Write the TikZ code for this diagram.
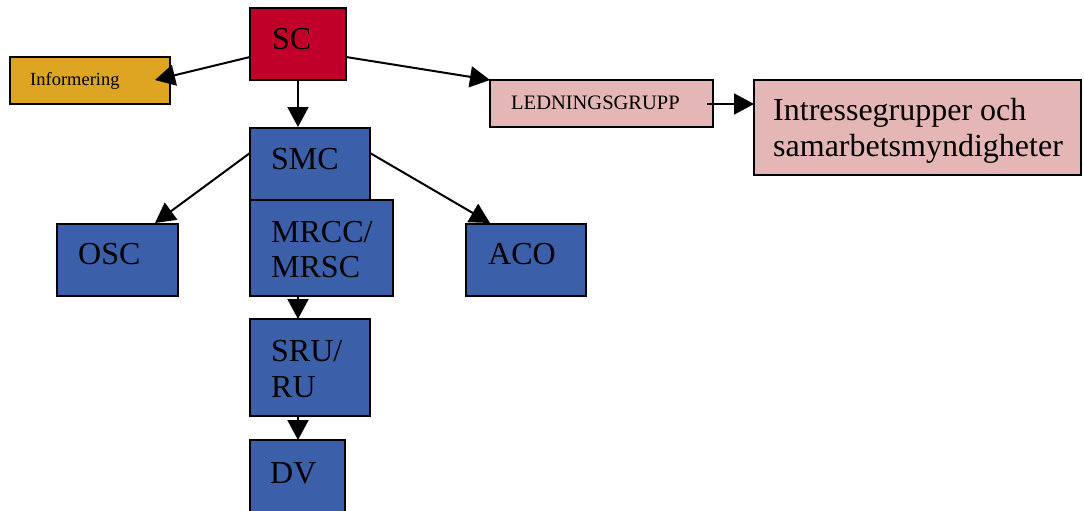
\documentclass[tikz,border=0pt]{standalone}
\usepackage{fontspec}
\setmainfont{Liberation Serif}
\usetikzlibrary{arrows.meta,calc}
\definecolor{scred}{HTML}{C00028}
\definecolor{goldbox}{HTML}{DDA521}
\definecolor{pinkbox}{HTML}{E4B6B6}
\definecolor{bluebox}{HTML}{3B5FA8}
\begin{document}
\begin{tikzpicture}[x=1pt,y=-1pt,
  box/.style={draw=black, line width=2pt, inner sep=0pt, outer sep=0pt, anchor=north west},
  lbl/.style={anchor=base west, inner sep=0pt, font=\fontsize{32}{35}\selectfont, align=left},
  small/.style={anchor=base west, inner sep=0pt},
  arr/.style={line width=2pt, -{Triangle[length=20pt,width=21pt]}}]
\useasboundingbox[fill=white] (0,0) rectangle (1084,511);
% boxes
\node[box, fill=scred, minimum width=96pt, minimum height=72pt] (sc) at (250,8) {};
\node[box, fill=goldbox, minimum width=160pt, minimum height=47pt] (inf) at (10,57) {};
\node[box, fill=pinkbox, minimum width=223pt, minimum height=47pt] (led) at (490,80) {};
\node[box, fill=pinkbox, minimum width=327pt, minimum height=95pt] (int) at (754,80) {};
\node[box, fill=bluebox, minimum width=120pt, minimum height=72pt] (smc) at (250,128) {};
\node[box, fill=bluebox, minimum width=143pt, minimum height=96pt] (mrcc) at (250,200) {};
\node[box, fill=bluebox, minimum width=121pt, minimum height=72pt] (osc) at (57,224) {};
\node[box, fill=bluebox, minimum width=120pt, minimum height=72pt] (aco) at (466,224) {};
\node[box, fill=bluebox, minimum width=120pt, minimum height=97pt] (sru) at (250,319) {};
\node[box, fill=bluebox, minimum width=95pt, minimum height=80pt] (dv) at (250,440) {};
% texts
\node[lbl] (sct) at (272,49) {SC};
\node[small, font=\fontsize{18.5}{20}\selectfont] (inft) at (30,85) {Informering};
\node[small, font=\fontsize{20.5}{22}\selectfont] (ledt) at (511,109) {LEDNINGSGRUPP};
\node[lbl, font=\fontsize{32}{36}\selectfont] (intt) at (773,156) {Intressegrupper och\\samarbetsmyndigheter};
\node[lbl] (smct) at (271,169) {SMC};
\node[lbl] (mrcct) at (271,277) {MRCC/\\MRSC};
\node[lbl] (osct) at (78,264) {OSC};
\node[lbl] (acot) at (488,264) {ACO};
\node[lbl, font=\fontsize{32}{36}\selectfont] (srut) at (271,397) {SRU/\\RU};
\node[lbl] (dvt) at (270,483) {DV};
% connectors
\draw[arr] ($(sc.north west)+(0,49)$) -- ($(inf.north east)+(-15,23)$);
\draw[arr] ($(sc.south west)+(48,0)$) -- ($(smc.north west)+(48,-1)$);
\draw[arr] ($(sc.north east)+(0,49)$) -- (led.north west);
\draw[arr] ($(led.north east)+(-6,24)$) -- ($(int.north west)+(0,24)$);
\draw[arr] ($(smc.north west)+(0,25)$) -- ($(osc.north west)+(98,-1)$);
\draw[arr] ($(smc.north east)+(0,25)$) -- ($(aco.north west)+(24,-1)$);
\draw[arr] ($(mrcc.south west)+(48,0)$) -- ($(sru.north west)+(48,0)$);
\draw[arr] ($(sru.south west)+(48,0)$) -- ($(dv.north west)+(48,0)$);
\end{tikzpicture}
\end{document}
